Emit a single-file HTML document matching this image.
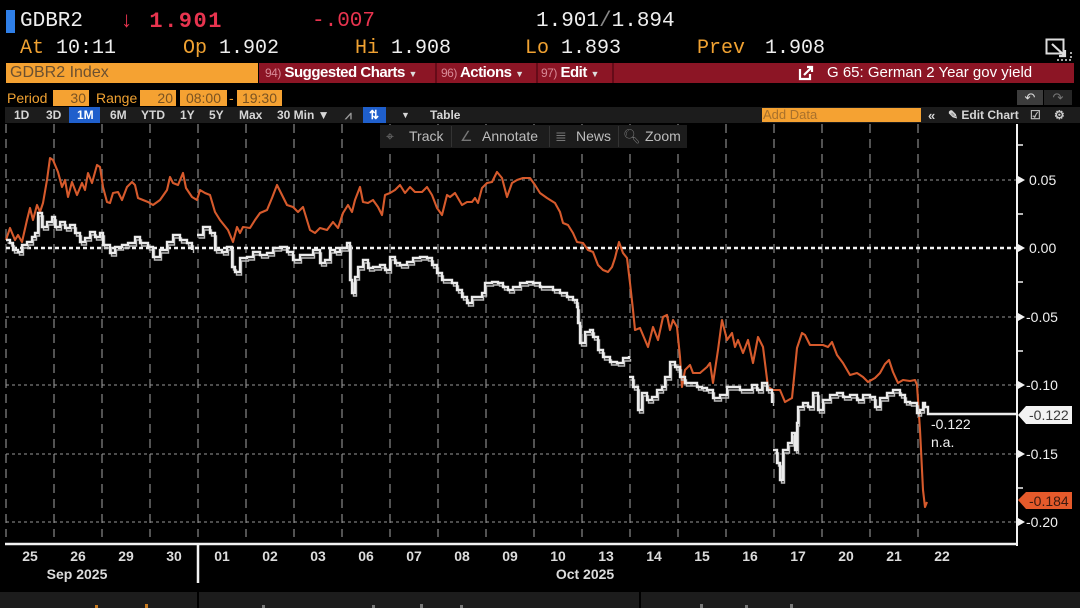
<!DOCTYPE html>
<html><head><meta charset="utf-8"><style>
*{margin:0;padding:0;box-sizing:border-box}
body{width:1080px;height:608px;background:#000;position:relative;overflow:hidden;font-family:"Liberation Sans",sans-serif}
.a{position:absolute;white-space:nowrap}
.m{font-family:"Liberation Mono",monospace}
.or{color:#f0a232}
.wh{color:#eeeeee}
.rd{color:#e8344f}
.t5{font-size:12px;font-weight:bold;color:#d6d6d6;top:108px;line-height:15px}
.tb{font-size:14px;color:#bdbdbd;top:128px;line-height:17px}
.bx{position:absolute;background:#f5a232;color:#7a5322;font-size:14px;line-height:16px;height:16px;top:90px}
</style></head><body>

<svg class="a" style="left:0;top:0" width="1080" height="608" viewBox="0 0 1080 608">
<g stroke="#6e6e6e" stroke-width="1.5" stroke-dasharray="9 6">
<line x1="6" y1="124" x2="6" y2="537"/><line x1="54" y1="124" x2="54" y2="537"/><line x1="102" y1="124" x2="102" y2="537"/><line x1="150" y1="124" x2="150" y2="537"/><line x1="198" y1="124" x2="198" y2="537"/><line x1="246" y1="124" x2="246" y2="537"/><line x1="294" y1="124" x2="294" y2="537"/><line x1="342" y1="124" x2="342" y2="537"/><line x1="390" y1="124" x2="390" y2="537"/><line x1="438" y1="124" x2="438" y2="537"/><line x1="486" y1="124" x2="486" y2="537"/><line x1="534" y1="124" x2="534" y2="537"/><line x1="582" y1="124" x2="582" y2="537"/><line x1="630" y1="124" x2="630" y2="537"/><line x1="678" y1="124" x2="678" y2="537"/><line x1="726" y1="124" x2="726" y2="537"/><line x1="774" y1="124" x2="774" y2="537"/><line x1="822" y1="124" x2="822" y2="537"/><line x1="870" y1="124" x2="870" y2="537"/><line x1="918" y1="124" x2="918" y2="537"/>
</g>
<g stroke="#999" stroke-width="1" stroke-dasharray="3 3">
<line x1="6" y1="180" x2="1017" y2="180"/><line x1="6" y1="317" x2="1017" y2="317"/><line x1="6" y1="385" x2="1017" y2="385"/><line x1="6" y1="454" x2="1017" y2="454"/><line x1="6" y1="522" x2="1017" y2="522"/>
</g>
<line x1="6" y1="248" x2="1017" y2="248" stroke="#f2f2f2" stroke-width="2.6" stroke-dasharray="4 3"/>

<polyline fill="none" stroke="#d65a2c" stroke-width="2.1" stroke-linejoin="round" points="6,240 10,228 15,240 18,235 22,242 27,220 30,208 33,220 37,205 40,212 43,203 47,180 50,158 53,160 58,172 62,187 65,180 68,197 72,182 77,195 82,183 85,190 88,173 92,183 97,165 100,167 103,187 107,202 110,203 113,193 118,192 122,200 127,187 132,182 135,185 138,198 143,200 148,202 153,205 160,200 167,190 170,177 173,183 178,185 183,173 186,188 192,197 197,200 200,190 205,193 210,195 215,212 220,220 228,230 233,242 237,227 240,233 243,227 250,228 255,220 260,213 267,210 272,198 277,185 282,195 287,205 293,207 298,212 303,207 310,230 315,233 320,228 327,230 333,222 338,228 343,213 348,205 352,212 355,200 360,187 363,202 368,203 373,200 378,207 382,215 385,195 390,193 395,190 400,185 405,193 410,187 415,192 422,192 427,187 432,195 437,208 442,215 447,195 450,197 455,193 462,205 467,202 472,202 475,198 478,203 482,188 487,183 492,182 497,172 502,178 507,197 512,183 517,180 523,178 530,178 535,185 540,193 547,198 555,203 560,212 563,223 568,225 573,233 577,242 583,243 588,250 593,252 598,265 603,270 608,272 612,267 615,258 619,242 623,253 627,258 630,283 633,310 635,330 640,328 648,347 653,327 658,340 663,317 667,315 670,330 673,320 677,327 680,357 682,387 685,370 690,365 693,373 700,373 707,367 710,363 713,383 718,350 722,320 727,340 732,333 735,347 738,340 743,353 748,340 753,363 758,337 763,347 768,387 773,390 780,390 785,402 792,398 797,348 802,333 805,335 810,345 817,345 823,345 828,347 832,342 837,355 843,363 850,375 857,373 863,377 868,382 875,378 880,373 885,364 889,360 893,372 898,383 903,380 910,381 915,380 917,385 918,400 920,430 923,490 925,507 927,502"/>

<g fill="none" stroke="#bdbdbd" stroke-width="1.4" transform="translate(1.5,3)">
<path d="M6,240 H10V243 H13V250 H18V252 H22V245 H27V242 H32V237 H35V233 H38V213 H42V227 H47V222 H52V217 H55V227 H60V222 H65V228 H70V225 H75V233 H80V242 H85V238 H90V232 H95V237 H100V233 H103V245 H110V253 H115V247 H122V245 H128V243 H135V237 H140V243 H148V247 H153V257 H160V250 H167V242 H173V235 H180V240 H187V243 H192V250"/>
<path d="M197,235 H203V227 H210V233 H215V250 H222V252 H227V247 H232V267 H235V272 H240V258 H247V257 H253V252 H260V255 H267V253 H273V248 H280V247 H287V252 H293V260 H300V255 H307V255 H313V250 H320V263 H325V260 H330V250 H335V252 H340V248 H347V243 H350V280 H352V293 H355V277 H358V267 H363V260 H368V268 H373V267 H380V265 H385V270 H390V257 H395V263 H400V265 H407V262 H413V258 H420V257 H427V258 H432V265 H437V273 H442V280 H447V280 H452V283 H457V290 H462V297 H467V303 H472V297 H477V297 H482V293 H485V283 H492V282 H498V283 H503V287 H508V290 H513V287 H520V283 H527V282 H533V283 H540V287 H547V287 H553V290 H560V293 H567V297 H573V300 H577V307 H578V323 H580V343 H585V332 H590V330 H593V337 H598V350 H603V357 H610V362 H617V363 H623V358 H629V356"/>
<path d="M629,377 H633V387 H638V410 H642V393 H647V400 H652V397 H657V390 H662V387 H665V377 H670V362 H675V367 H680V377 H685V383 H690V383 H697V387 H702V388 H707V390 H713V398 H720V395 H727V387 H733V387 H740V390 H747V390 H752V385 H757V390 H762V383 H767V390 H772V403"/>
<path d="M773,450 H777V463 H780V480 H783V450 H788V443 H792V433 H795V450 H797V423 H798V407 H803V403 H808V407 H813V393 H818V410 H823V400 H830V395 H837V393 H843V397 H850V395 H857V400 H863V395 H870V397 H875V407 H880V398 H887V393 H893V390 H900V395 H905V402 H910V403 H915V403 H917V413 H920V410 H923V403"/>
</g>
<g fill="none" stroke="#ececec" stroke-width="2.4">
<path d="M6,240 H10V243 H13V250 H18V252 H22V245 H27V242 H32V237 H35V233 H38V213 H42V227 H47V222 H52V217 H55V227 H60V222 H65V228 H70V225 H75V233 H80V242 H85V238 H90V232 H95V237 H100V233 H103V245 H110V253 H115V247 H122V245 H128V243 H135V237 H140V243 H148V247 H153V257 H160V250 H167V242 H173V235 H180V240 H187V243 H192V250"/>
<path d="M197,235 H203V227 H210V233 H215V250 H222V252 H227V247 H232V267 H235V272 H240V258 H247V257 H253V252 H260V255 H267V253 H273V248 H280V247 H287V252 H293V260 H300V255 H307V255 H313V250 H320V263 H325V260 H330V250 H335V252 H340V248 H347V243 H350V280 H352V293 H355V277 H358V267 H363V260 H368V268 H373V267 H380V265 H385V270 H390V257 H395V263 H400V265 H407V262 H413V258 H420V257 H427V258 H432V265 H437V273 H442V280 H447V280 H452V283 H457V290 H462V297 H467V303 H472V297 H477V297 H482V293 H485V283 H492V282 H498V283 H503V287 H508V290 H513V287 H520V283 H527V282 H533V283 H540V287 H547V287 H553V290 H560V293 H567V297 H573V300 H577V307 H578V323 H580V343 H585V332 H590V330 H593V337 H598V350 H603V357 H610V362 H617V363 H623V358 H629V356"/>
<path d="M629,377 H633V387 H638V410 H642V393 H647V400 H652V397 H657V390 H662V387 H665V377 H670V362 H675V367 H680V377 H685V383 H690V383 H697V387 H702V388 H707V390 H713V398 H720V395 H727V387 H733V387 H740V390 H747V390 H752V385 H757V390 H762V383 H767V390 H772V403"/>
<path d="M773,450 H777V463 H780V480 H783V450 H788V443 H792V433 H795V450 H797V423 H798V407 H803V403 H808V407 H813V393 H818V410 H823V400 H830V395 H837V393 H843V397 H850V395 H857V400 H863V395 H870V397 H875V407 H880V398 H887V393 H893V390 H900V395 H905V402 H910V403 H915V403 H917V413 H920V410 H923V403 H925V407 H928V414 H1017"/>
</g>

<line x1="1017" y1="124" x2="1017" y2="546" stroke="#f2f2f2" stroke-width="2"/>
<line x1="5" y1="544" x2="1018" y2="544" stroke="#f2f2f2" stroke-width="2.5"/>
<line x1="198" y1="545" x2="198" y2="583" stroke="#f2f2f2" stroke-width="2.5"/>
<g stroke="#f2f2f2" stroke-width="1.5">
<line x1="1018" y1="145" x2="1023" y2="145"/><line x1="1018" y1="214" x2="1023" y2="214"/><line x1="1018" y1="282" x2="1023" y2="282"/><line x1="1018" y1="351" x2="1023" y2="351"/><line x1="1018" y1="488" x2="1023" y2="488"/>
</g>
<g fill="#f2f2f2">
<polygon points="1018,176 1025,180 1018,184"/><polygon points="1018,244 1025,248 1018,252"/><polygon points="1018,313 1025,317 1018,321"/><polygon points="1018,381 1025,385 1018,389"/><polygon points="1018,450 1025,454 1018,458"/><polygon points="1018,518 1025,522 1018,526"/>
</g>
<g fill="#f0f0f0" font-size="14" font-family="Liberation Sans, sans-serif">
<text x="1029" y="185">0.05</text><text x="1029" y="253">0.00</text><text x="1026" y="322">-0.05</text><text x="1026" y="390">-0.10</text><text x="1026" y="459">-0.15</text><text x="1026" y="527">-0.20</text>
<text x="931" y="429">-0.122</text><text x="931" y="447">n.a.</text>
</g>
<polygon points="1018,415 1026,406 1072,406 1072,424 1026,424" fill="#f2f2f2"/>
<text x="1029" y="420" font-size="14" fill="#3a3a3a" font-family="Liberation Sans, sans-serif">-0.122</text>
<polygon points="1018,500 1026,492 1072,492 1072,509 1026,509" fill="#e55a2b"/>
<text x="1029" y="506" font-size="14" fill="#3a1a10" font-family="Liberation Sans, sans-serif">-0.184</text>

<g fill="#dcdcdc" font-size="14" font-weight="bold" font-family="Liberation Sans, sans-serif" text-anchor="middle">
<text x="30" y="561">25</text><text x="78" y="561">26</text><text x="126" y="561">29</text><text x="174" y="561">30</text><text x="222" y="561">01</text><text x="270" y="561">02</text><text x="318" y="561">03</text><text x="366" y="561">06</text><text x="414" y="561">07</text><text x="462" y="561">08</text><text x="510" y="561">09</text><text x="558" y="561">10</text><text x="606" y="561">13</text><text x="654" y="561">14</text><text x="702" y="561">15</text><text x="750" y="561">16</text><text x="798" y="561">17</text><text x="846" y="561">20</text><text x="894" y="561">21</text><text x="942" y="561">22</text>
<text x="77" y="579">Sep 2025</text><text x="585" y="579">Oct 2025</text>
</g>
<rect x="0" y="592" width="1080" height="16" fill="#1c1c1c"/>
<rect x="197" y="592" width="2" height="16" fill="#000"/>
<rect x="639" y="592" width="2" height="16" fill="#000"/>
<g fill="#777">
<rect x="262" y="605" width="3" height="3"/><rect x="372" y="605" width="3" height="3"/><rect x="420" y="604" width="3" height="4"/><rect x="460" y="605" width="3" height="3"/>
<rect x="700" y="604" width="3" height="4"/><rect x="745" y="605" width="3" height="3"/><rect x="790" y="604" width="3" height="4"/>
</g>
<g fill="#c77a20"><rect x="95" y="605" width="3" height="3"/><rect x="145" y="604" width="3" height="4"/></g>
</svg>

<!-- Row 1 -->
<div class="a" style="left:6px;top:10px;width:9px;height:23px;background:#2f7fe8"></div>
<div class="a m wh" style="left:20px;top:9px;font-size:21px;line-height:26px">GDBR2</div>
<div class="a m rd" style="left:120px;top:9px;font-size:22px;line-height:26px;font-weight:bold;letter-spacing:1.5px">↓ 1.901</div>
<div class="a m rd" style="left:312px;top:9px;font-size:21px;line-height:26px">-.007</div>
<div class="a m wh" style="left:536px;top:9px;font-size:21px;line-height:26px">1.901<span style="color:#888">/</span>1.894</div>

<!-- Row 2 -->
<div class="a m" style="left:20px;top:37px;font-size:20px;line-height:24px"><span class="or">At</span> <span class="wh">10:11</span></div>
<div class="a m" style="left:183px;top:37px;font-size:20px;line-height:24px"><span class="or">Op</span> <span class="wh">1.902</span></div>
<div class="a m" style="left:355px;top:37px;font-size:20px;line-height:24px"><span class="or">Hi</span> <span class="wh">1.908</span></div>
<div class="a m" style="left:525px;top:37px;font-size:20px;line-height:24px"><span class="or">Lo</span> <span class="wh">1.893</span></div>
<div class="a m or" style="left:697px;top:37px;font-size:20px;line-height:24px">Prev</div>
<div class="a m wh" style="left:765px;top:37px;font-size:20px;line-height:24px">1.908</div>
<svg class="a" style="left:1045px;top:38px" width="28" height="25" viewBox="0 0 28 25"><rect x="1.5" y="1.5" width="17" height="14" fill="none" stroke="#ddd" stroke-width="2"/><path d="M7,6 L20,18 M20,12 V18 H14" stroke="#ddd" stroke-width="2.2" fill="none"/><path d="M12,22 H26 V12" stroke="#ddd" stroke-width="1.5" stroke-dasharray="2 2" fill="none"/></svg>

<!-- Row 3 -->
<div class="a" style="left:6px;top:63px;width:252px;height:20px;background:#f5a232;color:#6b5030;font-size:16px;line-height:20px;padding-left:4px">GDBR2 Index</div>
<div class="a" style="left:259px;top:63px;width:815px;height:20px;background:#8c1525"></div>
<div class="a" style="left:435px;top:63px;width:2px;height:20px;background:#650b18"></div>
<div class="a" style="left:536px;top:63px;width:2px;height:20px;background:#650b18"></div>
<div class="a" style="left:612px;top:63px;width:2px;height:20px;background:#650b18"></div>
<div class="a" style="left:265px;top:63px;line-height:20px;font-size:15px;color:#fff;font-weight:bold;letter-spacing:-0.5px"><span style="font-size:12px;color:#d88a96;font-weight:normal">94)</span> Suggested Charts <span style="font-size:9px;color:#ddd">▼</span></div>
<div class="a" style="left:441px;top:63px;line-height:20px;font-size:15px;color:#fff;font-weight:bold;letter-spacing:-0.5px"><span style="font-size:12px;color:#d88a96;font-weight:normal">96)</span> Actions <span style="font-size:9px;color:#ddd">▼</span></div>
<div class="a" style="left:541px;top:63px;line-height:20px;font-size:15px;color:#fff;font-weight:bold;letter-spacing:-0.5px"><span style="font-size:12px;color:#d88a96;font-weight:normal">97)</span> Edit <span style="font-size:9px;color:#ddd">▼</span></div>
<svg class="a" style="left:798px;top:65px" width="16" height="16" viewBox="0 0 16 16"><path d="M2,4 V14 H12 V9" stroke="#fff" stroke-width="2.2" fill="none"/><path d="M6,10 L14,2 M9,2 H14 V7" stroke="#fff" stroke-width="2.2" fill="none"/></svg>
<div class="a" style="left:827px;top:63px;line-height:20px;font-size:15px;color:#fff">G 65: German 2 Year gov yield</div>

<!-- Row 4 -->
<div class="a or" style="left:7px;top:90px;font-size:14px;line-height:16px">Period</div>
<div class="bx" style="left:53px;width:36px;text-align:right;padding-right:3px">30</div>
<div class="a or" style="left:96px;top:90px;font-size:14px;line-height:16px">Range</div>
<div class="bx" style="left:140px;width:36px;text-align:right;padding-right:3px">20</div>
<div class="bx" style="left:180px;width:47px;text-align:center">08:00</div>
<div class="a or" style="left:229px;top:90px;font-size:14px;line-height:16px">-</div>
<div class="bx" style="left:237px;width:45px;text-align:center">19:30</div>
<div class="a" style="left:1017px;top:90px;width:26px;height:15px;background:#3c3c3c;color:#ddd;font-size:13px;line-height:15px;text-align:center">↶</div>
<div class="a" style="left:1044px;top:90px;width:28px;height:15px;background:#262626;color:#777;font-size:13px;line-height:15px;text-align:center">↷</div>

<!-- Row 5 -->
<div class="a" style="left:5px;top:107px;width:1075px;height:16px;background:#1c1c1c"></div>
<div class="a" style="left:69px;top:107px;width:31px;height:16px;background:#1f5fcc"></div>
<div class="a" style="left:363px;top:107px;width:23px;height:16px;background:#1f5fcc"></div>
<div class="a t5" style="left:14px">1D</div>
<div class="a t5" style="left:46px">3D</div>
<div class="a t5" style="left:77px;color:#fff">1M</div>
<div class="a t5" style="left:110px">6M</div>
<div class="a t5" style="left:141px">YTD</div>
<div class="a t5" style="left:180px">1Y</div>
<div class="a t5" style="left:209px">5Y</div>
<div class="a t5" style="left:239px">Max</div>
<div class="a t5" style="left:277px">30 Min ▼</div>
<div class="a t5" style="left:345px;color:#999">⩘</div>
<div class="a t5" style="left:369px;color:#fff">⇅</div>
<div class="a t5" style="left:401px;font-size:9px">▼</div>
<div class="a t5" style="left:430px">Table</div>
<div class="a" style="left:762px;top:108px;width:159px;height:14px;background:#f5a232;color:#a8712c;font-size:13px;line-height:14px;padding-left:1px">Add Data</div>
<div class="a t5" style="left:928px;font-size:13px">«</div>
<div class="a t5" style="left:948px">✎ Edit Chart</div>
<div class="a t5" style="left:1030px;color:#bbb">☑</div>
<div class="a t5" style="left:1054px;color:#ccc">⚙</div>

<!-- Row 6 toolbar -->
<div class="a" style="left:380px;top:125px;width:307px;height:23px;background:#1c1c1c"></div>
<div class="a" style="left:451px;top:126px;width:1px;height:21px;background:#333"></div>
<div class="a" style="left:549px;top:126px;width:1px;height:21px;background:#333"></div>
<div class="a" style="left:618px;top:126px;width:1px;height:21px;background:#333"></div>
<div class="a tb" style="left:386px;color:#777">⌖</div>
<div class="a tb" style="left:409px">Track</div>
<div class="a tb" style="left:460px;color:#777">∠</div>
<div class="a tb" style="left:482px">Annotate</div>
<div class="a tb" style="left:555px;color:#777">≣</div>
<div class="a tb" style="left:576px">News</div>
<div class="a tb" style="left:623px;color:#777">🔍︎</div>
<div class="a tb" style="left:645px">Zoom</div>
</body></html>
